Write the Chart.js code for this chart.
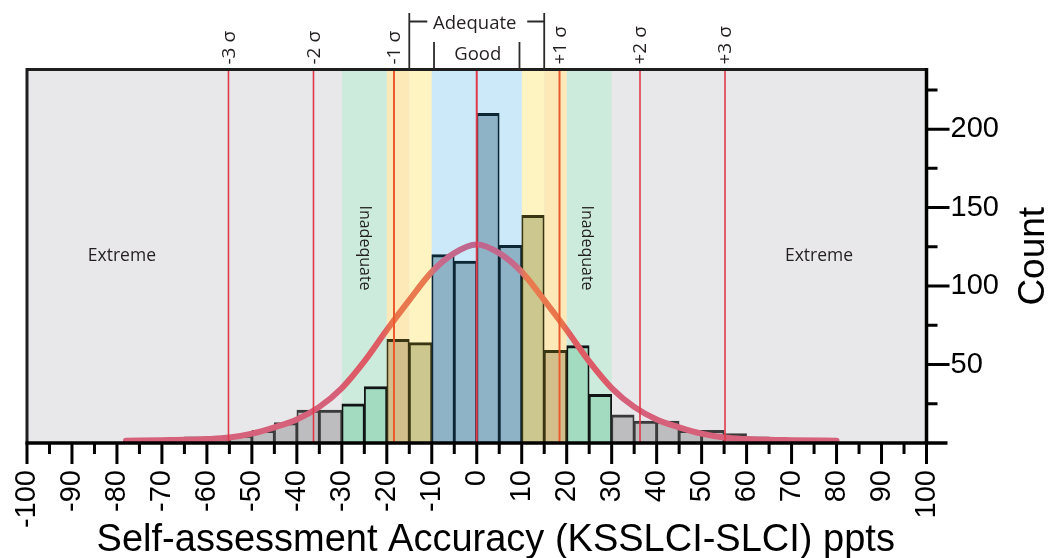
<!DOCTYPE html>
<html>
<head>
<meta charset="utf-8">
<title>Self-assessment accuracy histogram</title>
<script src="https://cdn.jsdelivr.net/npm/chart.js@4.4.1/dist/chart.umd.min.js"></script>
<style>
  html, body { margin: 0; padding: 0; background: #ffffff; }
  #wrap { width: 1055px; height: 558px; position: relative; }
</style>
</head>
<body>
<div id="wrap"><canvas id="chart"></canvas></div>
<script>
// Histogram bins (left edge of each 5-ppt bin) and their counts
const binStarts = [-65, -60, -55, -50, -45, -40, -35, -30, -25, -20, -15, -10, -5,
                   0, 5, 10, 15, 20, 25, 30, 35, 40, 45, 50, 55, 60];
const counts    = [4, 4, 5, 8, 13, 21, 21, 25, 36, 66, 64, 120, 116,
                   210, 126, 145, 59, 62, 31, 18, 14, 14, 8, 8, 6, 4];
const binWidth = 5;

// Fitted normal curve, sampled along the axis
const curveX = [-78, -70, -65, -60, -55, -50, -45, -40, -35, -30, -25, -20, -15, -10, -5, 0,
                5, 10, 15, 20, 25, 30, 35, 40, 45, 50, 55, 60, 65, 70, 80];
const curveY = [1.5, 1.8, 2, 2.5, 3.5, 6, 10, 15, 23, 35, 52, 72, 91, 109, 121, 126.5,
                121, 109, 91, 72, 52, 35, 23, 15, 10, 6, 3.5, 2.5, 2, 1.8, 1.5];

// Standard-deviation markers
const sigmaNames  = ['-3 σ', '-2 σ', '-1 σ', '+1 σ', '+2 σ', '+3 σ'];
const sigmaValues = [-55.2, -36.3, -18.4, 18.4, 36.3, 55.2];
const meanValue = 0;

// Accuracy zones (shaded bands)
const bandFrom = [-30, 20, -20, 15, -15, 10, -10];
const bandTo   = [-20, 30, -15, 20, -10, 15, 10];
const bandKind = ['inadequate', 'inadequate', 'margin', 'margin', 'adequate', 'adequate', 'good'];

// Zone labels inside the plot
const zoneLabels   = ['Extreme', 'Inadequate', 'Inadequate', 'Extreme'];
const zoneLabelAt  = [-78.9, -25, 24.4, 76.1];
const zoneVertical = [false, true, true, false];

// Bracket ranges above the plot
const adequateRange = [-15, 15];
const goodRange = [-9.5, 9.5];

// Axis ranges
const xMin = -100, xMax = 100, xStep = 10, xMinorStep = 5;
const yMin = 0, yMax = 238, yStep = 50, yMinorStep = 25;

const STYLE = {
  extreme: '#e8e8eb',
  band: { inadequate: '#cdebdc', margin: '#fde8b8', adequate: '#fdf4c1', good: '#cbe9f8' },
  bar: {
    extreme:    { fill: '#bdbdbf', edge: '#3a3a3a' },
    inadequate: { fill: '#a2dbbf', edge: '#101414' },
    margin:     { fill: '#d3bf8c', edge: '#3a3512' },
    adequate:   { fill: '#cbc78f', edge: '#3a3512' },
    good:       { fill: '#8fb3c6', edge: '#0d2633' }
  },
  curveStops: [
    [-100, '#d6637c'], [-31, '#d6607a'], [-29, '#dc5a6a'], [-21, '#df5c62'],
    [-19, '#e9744c'], [-11, '#e97b4f'], [-9, '#c9698a'], [0, '#bd6690'],
    [9, '#c9698a'], [11, '#e97b4f'], [19, '#e9744c'], [21, '#df5c62'],
    [29, '#dc5a6a'], [31, '#d6607a'], [100, '#d6637c']
  ],
  sigmaLine: '#e03a4a',
  sigmaNear: '#ea5a2e',
  text: '#231f20',
  axisFont: '"Liberation Sans", Arial, Helvetica, sans-serif',
  noteFont: '"Open Sans", "Noto Sans", sans-serif'
};

function zoneOf(center) {
  const d = Math.abs(center);
  if (d < 10) return 'good';
  if (d < 15) return 'adequate';
  if (d < 20) return 'margin';
  if (d < 30) return 'inadequate';
  return 'extreme';
}

const barPoints = binStarts.map((s, i) => ({ x: s + binWidth / 2, y: counts[i] }));
const barZones = binStarts.map(s => zoneOf(s + binWidth / 2));
const curvePoints = curveX.map((x, i) => ({ x: x, y: curveY[i] }));

// Shaded zones and zone names, drawn beneath the bars; sigma lines above them
const backdrop = {
  id: 'backdrop',
  beforeDatasetsDraw(chart) {
    const { ctx, chartArea: a } = chart;
    const xs = chart.scales.x;
    ctx.save();
    ctx.fillStyle = STYLE.extreme;
    ctx.fillRect(a.left, a.top, a.width, a.height);
    bandFrom.forEach((f, i) => {
      const x0 = xs.getPixelForValue(f), x1 = xs.getPixelForValue(bandTo[i]);
      ctx.fillStyle = STYLE.band[bandKind[i]];
      ctx.fillRect(x0, a.top, x1 - x0, a.height);
    });
    ctx.fillStyle = STYLE.text;
    ctx.textAlign = 'center';
    ctx.textBaseline = 'middle';
    zoneLabels.forEach((t, i) => {
      const x = xs.getPixelForValue(zoneLabelAt[i]);
      ctx.save();
      if (zoneVertical[i]) {
        ctx.font = '16px ' + STYLE.noteFont;
        ctx.translate(x, 248);
        ctx.rotate(Math.PI / 2);
      } else {
        ctx.font = '17.5px ' + STYLE.noteFont;
        ctx.translate(x, 256);
      }
      ctx.fillText(t, 0, 0);
      ctx.restore();
    });
    ctx.restore();
  },
  afterDatasetsDraw(chart) {
    const { ctx, chartArea: a } = chart;
    const xs = chart.scales.x;
    ctx.save();
    const lines = sigmaValues.concat([meanValue]);
    lines.forEach(v => {
      const x = xs.getPixelForValue(v);
      const near = Math.abs(v) > 0 && Math.abs(v) < 20;
      ctx.strokeStyle = near ? STYLE.sigmaNear : STYLE.sigmaLine;
      ctx.lineWidth = near || v === meanValue ? 2 : 1.6;
      ctx.beginPath();
      ctx.moveTo(x, a.top);
      ctx.lineTo(x, a.bottom);
      ctx.stroke();
    });
    ctx.restore();
  }
};

// Frame, axis lines, tick marks, annotations and axis titles
const furniture = {
  id: 'furniture',
  afterDraw(chart) {
    const { ctx, chartArea: a } = chart;
    const xs = chart.scales.x, ys = chart.scales.y;
    ctx.save();
    ctx.lineCap = 'butt';

    ctx.strokeStyle = '#1e1e1e';
    ctx.lineWidth = 3;
    ctx.beginPath();
    ctx.moveTo(a.left, a.bottom);
    ctx.lineTo(a.left, a.top);
    ctx.lineTo(a.right, a.top);
    ctx.stroke();

    ctx.strokeStyle = '#000';
    ctx.lineWidth = 3.5;
    ctx.beginPath();
    ctx.moveTo(a.left - 1.5, a.bottom);
    ctx.lineTo(a.right + 21, a.bottom);
    ctx.moveTo(a.right, a.top - 1.5);
    ctx.lineTo(a.right, a.bottom);
    ctx.stroke();

    ctx.lineWidth = 3;
    ctx.beginPath();
    for (let v = xMin; v <= xMax; v += xMinorStep) {
      const x = xs.getPixelForValue(v);
      const len = v % xStep === 0 ? 21 : 11;
      ctx.moveTo(x, a.bottom);
      ctx.lineTo(x, a.bottom + len);
    }
    for (let v = yMinorStep; v < yMax; v += yMinorStep) {
      const y = ys.getPixelForValue(v);
      const len = v % yStep === 0 ? 23 : 11;
      ctx.moveTo(a.right, y);
      ctx.lineTo(a.right + len, y);
    }
    ctx.stroke();

    // sigma labels above the plot
    ctx.fillStyle = STYLE.text;
    ctx.font = '19px ' + STYLE.noteFont;
    sigmaValues.forEach((v, i) => {
      const x = xs.getPixelForValue(v);
      ctx.save();
      ctx.translate(x + 1, a.top - 5);
      ctx.rotate(-Math.PI / 2);
      ctx.textAlign = 'left';
      ctx.textBaseline = 'middle';
      ctx.fillText(sigmaNames[i], 0, 0);
      ctx.restore();
    });

    // Adequate / Good brackets
    const aL = xs.getPixelForValue(adequateRange[0]), aR = xs.getPixelForValue(adequateRange[1]);
    const gL = xs.getPixelForValue(goodRange[0]), gR = xs.getPixelForValue(goodRange[1]);
    ctx.strokeStyle = '#2b2b2b';
    ctx.lineWidth = 1.8;
    ctx.beginPath();
    ctx.moveTo(aL, 13); ctx.lineTo(aL, a.top);
    ctx.moveTo(aL, 21.5); ctx.lineTo(aL + 18, 21.5);
    ctx.moveTo(aR, 13); ctx.lineTo(aR, a.top);
    ctx.moveTo(aR, 21.5); ctx.lineTo(aR - 17, 21.5);
    ctx.moveTo(gL, 42); ctx.lineTo(gL, a.top);
    ctx.moveTo(gR, 42); ctx.lineTo(gR, a.top);
    ctx.stroke();
    ctx.font = '18.5px ' + STYLE.noteFont;
    ctx.textAlign = 'center';
    ctx.textBaseline = 'alphabetic';
    ctx.fillText('Adequate', (aL + aR) / 2 - 2, 28.5);
    ctx.fillText('Good', (gL + gR) / 2 + 1, 59.5);

    // axis titles
    ctx.fillStyle = '#000';
    ctx.font = '38px ' + STYLE.axisFont;
    ctx.fillText('Self-assessment Accuracy (KSSLCI-SLCI) ppts', (a.left + a.right) / 2 + 19, 551);
    ctx.save();
    ctx.font = '37px ' + STYLE.axisFont;
    ctx.translate(1034, (a.top + a.bottom) / 2);
    ctx.rotate(-Math.PI / 2);
    ctx.textAlign = 'center';
    ctx.textBaseline = 'middle';
    ctx.fillText('Count', 0, 0);
    ctx.restore();

    ctx.restore();
  }
};

new Chart(document.getElementById('chart'), {
  type: 'bar',
  data: {
    datasets: [
      {
        type: 'line',
        label: 'Normal fit',
        data: curvePoints,
        order: 1,
        borderWidth: 6,
        borderCapStyle: 'round',
        borderJoinStyle: 'round',
        pointRadius: 0,
        fill: false,
        cubicInterpolationMode: 'monotone',
        borderColor(context) {
          const ch = context.chart;
          const a = ch.chartArea;
          if (!a) return STYLE.curveStops[0][1];
          const xs = ch.scales.x;
          const g = ch.ctx.createLinearGradient(a.left, 0, a.right, 0);
          STYLE.curveStops.forEach(([v, c]) => {
            const t = (xs.getPixelForValue(v) - a.left) / a.width;
            g.addColorStop(Math.min(1, Math.max(0, t)), c);
          });
          return g;
        }
      },
      {
        type: 'bar',
        label: 'Count',
        data: barPoints,
        order: 2,
        barPercentage: 1,
        categoryPercentage: 1,
        backgroundColor: barZones.map(z => STYLE.bar[z].fill),
        borderColor: barZones.map(z => STYLE.bar[z].edge),
        borderWidth: { top: 3, left: 1.8, right: 1.8, bottom: 0 },
        borderSkipped: false
      }
    ]
  },
  options: {
    responsive: true,
    maintainAspectRatio: false,
    animation: false,
    events: [],
    layout: { padding: { left: 25, top: 69.5, right: 0, bottom: 0 } },
    plugins: { legend: { display: false }, tooltip: { enabled: false } },
    scales: {
      x: {
        type: 'linear',
        min: xMin,
        max: xMax,
        offset: false,
        grid: { display: false, drawTicks: false },
        border: { display: false },
        ticks: {
          stepSize: xStep,
          autoSkip: false,
          minRotation: 90,
          maxRotation: 90,
          padding: 27,
          color: '#000',
          font: { family: STYLE.axisFont, size: 29 },
          callback: v => String(v)
        },
        afterFit(scale) { scale.height = 115; }
      },
      y: {
        type: 'linear',
        position: 'right',
        min: yMin,
        max: yMax,
        grid: { display: false, drawTicks: false },
        border: { display: false },
        ticks: {
          stepSize: yStep,
          includeBounds: false,
          padding: 24,
          color: '#000',
          font: { family: STYLE.axisFont, size: 29 },
          callback: v => (v === 0 ? '' : String(v))
        },
        afterFit(scale) { scale.width = 128.5; }
      }
    }
  },
  plugins: [backdrop, furniture]
});
</script>
</body>
</html>
